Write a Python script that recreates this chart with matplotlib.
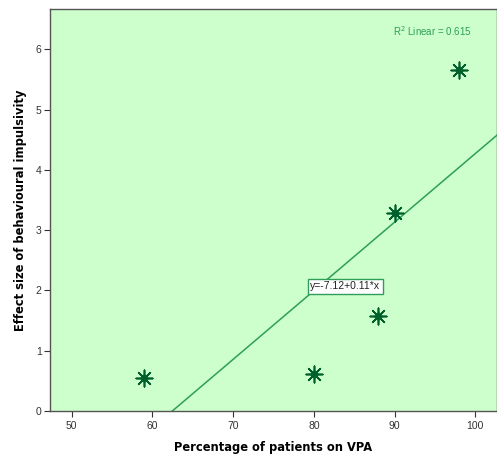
import numpy as np
import matplotlib
matplotlib.use("Agg")
import matplotlib.pyplot as plt

# data
pct_vpa = [59, 80, 88, 90, 98]
effect_size = [0.55, 0.62, 1.58, 3.28, 5.65]
x_ticks = [50, 60, 70, 80, 90, 100]
y_ticks = [0, 1, 2, 3, 4, 5, 6]
eq_label = "y=-7.12+0.11*x"
r2_label = "R$^2$ Linear = 0.615"

BG = "#ccffcc"
LINE = "#2e9e58"
MARK = "#00602c"

plt.rcParams["font.family"] = ["Liberation Sans", "DejaVu Sans"]

fig = plt.figure(figsize=(4.97, 4.54), dpi=100)
ax = fig.add_axes([0.1006, 0.0947, 0.8994, 0.8855])
ax.set_facecolor(BG)

slope, intercept = np.polyfit(pct_vpa, effect_size, 1)

xlim = (47.3, 102.7)
xx = np.array(xlim)
ax.plot(xx, intercept + slope * xx, color=LINE, linewidth=1.1, zorder=2)

# spiky 8-point star: thin asterisk plus a filled centre
ax.scatter(pct_vpa, effect_size, marker=(8, 2, 0), s=140, color=MARK,
           linewidths=1.2, zorder=3)
ax.scatter(pct_vpa, effect_size, marker=(8, 1, 0), s=85, color=MARK,
           linewidths=0, zorder=3)

ax.text(83.9, 2.07, eq_label, fontsize=7.5,
        ha="center", va="center", color="#222222",
        bbox=dict(boxstyle="square,pad=0.25", fc="white", ec=LINE, lw=1))
ax.text(0.944, 0.945, r2_label, transform=ax.transAxes,
        fontsize=7, color=LINE, ha="right", va="center")

ax.set_xlim(*xlim)
ax.set_ylim(0, 6.67)
ax.set_xticks(x_ticks)
ax.set_yticks(y_ticks)
ax.tick_params(direction="out", length=4, width=0.8, labelsize=7.5,
               colors="#333333", labelcolor="#333333")
ax.tick_params(axis="y", pad=2)
for s in ax.spines.values():
    s.set_color("#555555")
    s.set_linewidth(1)

ax.set_xlabel("Percentage of patients on VPA", fontsize=8.3, fontweight="bold",
              family="DejaVu Sans", labelpad=7)
ax.set_ylabel("Effect size of behavioural impulsivity", fontsize=8.3,
              fontweight="bold", family="DejaVu Sans", labelpad=6)

fig.savefig("out.png", dpi=100)
